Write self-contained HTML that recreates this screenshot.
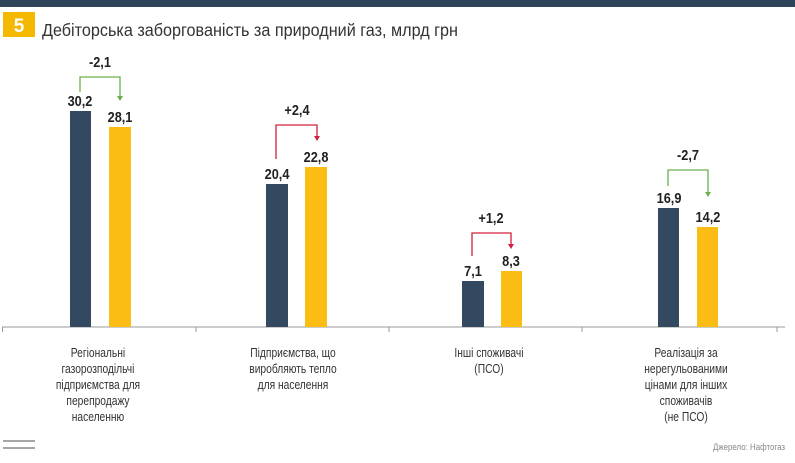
<!DOCTYPE html>
<html><head><meta charset="utf-8"><style>
html,body{margin:0;padding:0;background:#fff;}
svg{display:block;}
text{font-family:"Liberation Sans",sans-serif;}
</style></head><body>
<svg width="795" height="463" viewBox="0 0 795 463" xmlns="http://www.w3.org/2000/svg">
<rect x="0" y="0" width="795" height="7" fill="#2f4459"/>
<rect x="3" y="12" width="32" height="25" fill="#f5b800"/>
<text x="19" y="32" font-size="19" font-weight="bold" fill="#fff" text-anchor="middle">5</text>
<text x="42" y="36" font-size="17.5" fill="#333" textLength="416" lengthAdjust="spacingAndGlyphs">Дебіторська заборгованість за природний газ, млрд грн</text>
<line x1="2" y1="327" x2="785" y2="327" stroke="#999" stroke-width="1"/>
<g stroke="#999" stroke-width="1">
<line x1="2.5" y1="327" x2="2.5" y2="332"/><line x1="196" y1="327" x2="196" y2="332"/><line x1="389" y1="327" x2="389" y2="332"/><line x1="582" y1="327" x2="582" y2="332"/><line x1="777" y1="327" x2="777" y2="332"/>
</g>
<g fill="#33495f">
<rect x="70" y="111" width="21" height="216"/>
<rect x="266" y="184" width="22" height="143"/>
<rect x="462" y="281" width="22" height="46"/>
<rect x="658" y="208" width="21" height="119"/>
</g>
<g fill="#fbbd14">
<rect x="109" y="127" width="22" height="200"/>
<rect x="305" y="167" width="22" height="160"/>
<rect x="501" y="271" width="21" height="56"/>
<rect x="697" y="227" width="21" height="100"/>
</g>
<g font-size="15" font-weight="bold" fill="#222" text-anchor="middle" transform="scale(0.85 1)">
<text x="94.1" y="106">30,2</text><text x="141.2" y="122">28,1</text>
<text x="325.9" y="179">20,4</text><text x="371.8" y="162">22,8</text>
<text x="556.5" y="276">7,1</text><text x="601.2" y="266">8,3</text>
<text x="787.1" y="203">16,9</text><text x="832.9" y="222">14,2</text>
<text x="117.6" y="67">-2,1</text><text x="349.4" y="115">+2,4</text>
<text x="577.6" y="223">+1,2</text><text x="809.4" y="160">-2,7</text>
</g>
<g fill="none" stroke-width="1.3">
<path d="M80 92 V77 H120 V97" stroke="#6ab04c"/>
<path d="M276 159 V125 H317 V137" stroke="#d0213d"/>
<path d="M472 256 V233 H511 V245" stroke="#d0213d"/>
<path d="M668 186 V170 H708 V193" stroke="#6ab04c"/>
</g>
<polygon points="117,96 123,96 120,101" fill="#6ab04c"/>
<polygon points="314,136 320,136 317,141" fill="#d0213d"/>
<polygon points="508,244 514,244 511,249" fill="#d0213d"/>
<polygon points="705,192 711,192 708,197" fill="#6ab04c"/>
<g font-size="12.5" fill="#333" text-anchor="middle" transform="scale(0.82 1)">
<text x="119.5" y="357">Регіональні</text><text x="119.5" y="373">газорозподільчі</text><text x="119.5" y="389">підприємства для</text><text x="119.5" y="405">перепродажу</text><text x="119.5" y="421">населенню</text>
<text x="357.3" y="357">Підприємства, що</text><text x="357.3" y="373">виробляють тепло</text><text x="357.3" y="389">для населення</text>
<text x="596.3" y="357">Інші споживачі</text><text x="596.3" y="373">(ПСО)</text>
<text x="836.6" y="357">Реалізація за</text><text x="836.6" y="373">нерегульованими</text><text x="836.6" y="389">цінами для інших</text><text x="836.6" y="405">споживачів</text><text x="836.6" y="421">(не ПСО)</text>
</g>
<line x1="3" y1="441" x2="35" y2="441" stroke="#888" stroke-width="1.5"/>
<line x1="3" y1="448" x2="35" y2="448" stroke="#888" stroke-width="1.5"/>
<text x="785" y="450" font-size="9.5" fill="#888" text-anchor="end" textLength="72" lengthAdjust="spacingAndGlyphs">Джерело: Нафтогаз</text>
</svg>
</body></html>
